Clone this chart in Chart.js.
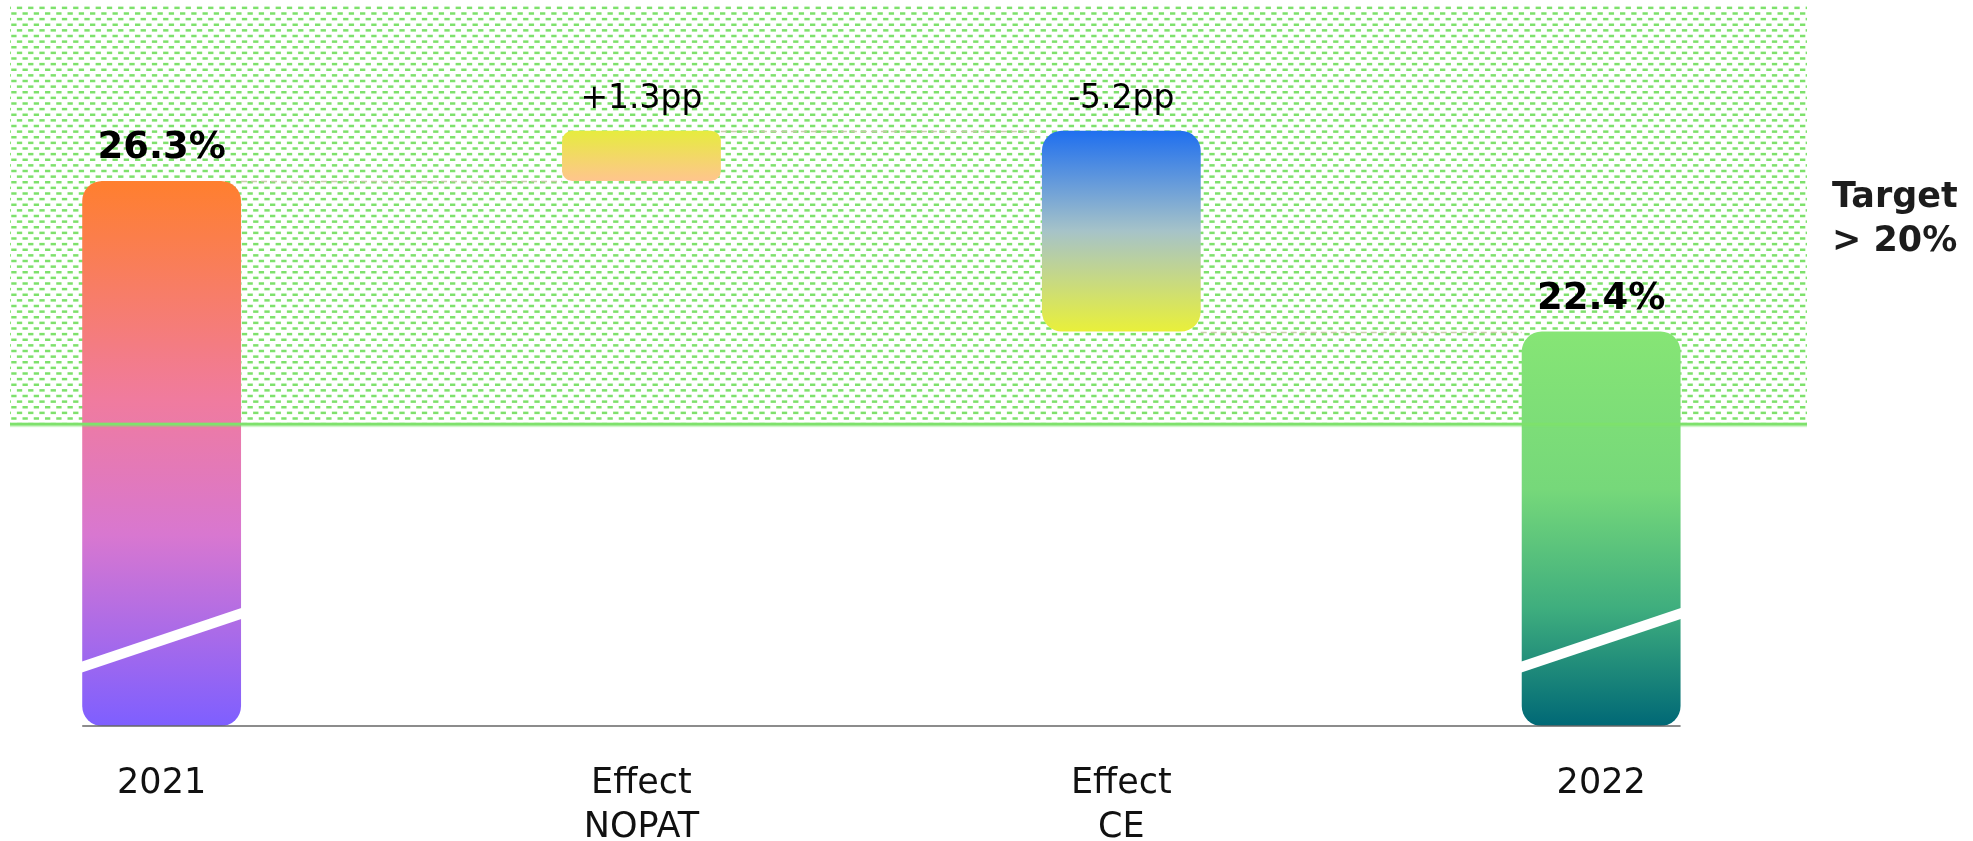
<!DOCTYPE html>
<html><head><meta charset="utf-8">
<script src="https://cdn.jsdelivr.net/npm/chart.js@4/dist/chart.umd.min.js"></script>
<style>html,body{margin:0;padding:0;background:#fff;}#wrap{width:1973px;height:841px;}</style>
</head><body><div id="wrap"><canvas id="c" width="1973" height="841"></canvas></div>
<script>
// ---------- data ----------
const categories = [["2021"], ["Effect", "NOPAT"], ["Effect", "CE"], ["2022"]];
const axisBase = 12.18;            // value at the (broken) axis bottom
const axisTop = 30.86;             // value at the top of the plot
const barStart = [axisBase, 26.3, 27.6, axisBase];
const barEnd = [26.3, 27.6, 22.4, 22.4];
const valueLabels = ["26.3%", "+1.3pp", "-5.2pp", "22.4%"];
const isTotal = [true, false, false, true];
const targetValue = 20;
const targetLabel = ["Target", "> 20%"];
const breakLeftValue = 13.7, breakRightValue = 15.1;   // axis-break stripe on total bars

// ---------- styles ----------
const gradients = [
  [[0, '#ff7f2e'], [0.4, '#f07b9e'], [0.65, '#d877d0'], [1, '#7e5fff']],
  [[0, '#e6ec3e'], [1, '#ffc58e']],
  [[0, '#1f6fef'], [0.5, '#a6c3c8'], [1, '#e9f03a']],
  [[0, '#86e575'], [0.4, '#76d87a'], [0.7, '#3fae7e'], [1, '#006876']]
];
const radii = [20, 10, 20, 20];
const green = '#7ee16c';
const FONT = "'DejaVu Sans', Verdana, sans-serif";

function makePattern(ctx) {
  const c = document.createElement('canvas');
  c.width = 45; c.height = 45;
  const x = c.getContext('2d');
  x.fillStyle = green;
  for (let r = 0; r < 8; r++) {
    const yy = r * 5.625 + 1;
    const off = (r % 2) ? 5.625 : 0;
    for (let k = -1; k < 5; k++) x.fillRect(k * 11.25 + off, yy, 5.3, 2.5);
  }
  return ctx.createPattern(c, 'repeat');
}

const bgPlugin = {
  id: 'bg',
  beforeDatasetsDraw(chart) {
    const {ctx, chartArea: ca, scales: {x, y}} = chart;
    const yT = y.getPixelForValue(targetValue);
    ctx.save();
    ctx.fillStyle = makePattern(ctx);
    ctx.fillRect(ca.left, ca.top, ca.right - ca.left, yT - ca.top);
    // connectors
    const meta = chart.getDatasetMeta(0);
    ctx.strokeStyle = 'rgba(200,200,165,0.9)';
    ctx.lineWidth = 1.5;
    ctx.setLineDash([6, 4]);
    for (let i = 0; i < barEnd.length - 1; i++) {
      const a = meta.data[i], b = meta.data[i + 1];
      const py = Math.round(y.getPixelForValue(barEnd[i])) + 0.5;
      ctx.beginPath();
      ctx.moveTo(a.x + a.width / 2, py);
      ctx.lineTo(b.x - b.width / 2, py);
      ctx.stroke();
    }
    ctx.restore();
  },
  afterDatasetsDraw(chart) {
    const {ctx, chartArea: ca, scales: {x, y}} = chart;
    const meta = chart.getDatasetMeta(0);
    const yT = y.getPixelForValue(targetValue);
    ctx.save();
    // target line
    ctx.fillStyle = green;
    ctx.fillRect(ca.left, yT - 1.5, ca.right - ca.left, 3);
    ctx.fillStyle = 'rgba(126,225,108,0.35)';
    ctx.fillRect(ca.left, yT + 1.5, ca.right - ca.left, 1.5);
    // break stripes
    ctx.fillStyle = '#ffffff';
    meta.data.forEach((el, i) => {
      if (!isTotal[i]) return;
      const l = el.x - el.width / 2 - 1, r = el.x + el.width / 2 + 1;
      const yl = y.getPixelForValue(breakLeftValue), yr = y.getPixelForValue(breakRightValue);
      const h = 5.5;
      ctx.beginPath();
      ctx.moveTo(l, yl - h); ctx.lineTo(r, yr - h); ctx.lineTo(r, yr + h); ctx.lineTo(l, yl + h);
      ctx.closePath(); ctx.fill();
    });
    // axis line
    const first = meta.data[0], last = meta.data[meta.data.length - 1];
    ctx.strokeStyle = '#666';
    ctx.lineWidth = 1.5;
    ctx.beginPath();
    ctx.moveTo(first.x - first.width / 2, ca.bottom);
    ctx.lineTo(last.x + last.width / 2, ca.bottom);
    ctx.stroke();
    // value labels
    ctx.fillStyle = '#000';
    ctx.textAlign = 'center';
    ctx.textBaseline = 'alphabetic';
    meta.data.forEach((el, i) => {
      const top = y.getPixelForValue(Math.max(barStart[i], barEnd[i]));
      ctx.font = isTotal[i] ? `bold 37px ${FONT}` : `33px ${FONT}`;
      ctx.fillText(valueLabels[i], el.x, top - 23);
    });
    // target label
    ctx.fillStyle = '#1c1c1c';
    ctx.textAlign = 'left';
    ctx.textBaseline = 'middle';
    ctx.font = `bold 35px ${FONT}`;
    const mid = (ca.top + yT) / 2;
    ctx.fillText(targetLabel[0], ca.right + 25, mid - 17);
    ctx.fillText(targetLabel[1], ca.right + 25, mid + 27);
    ctx.restore();
  }
};

new Chart(document.getElementById('c'), {
  type: 'bar',
  data: {
    datasets: [{
      data: categories.map((c, i) => ({x: i, y: [barStart[i], barEnd[i]]})),
      backgroundColor: (ctx) => {
        const chart = ctx.chart;
        if (ctx.type !== 'data' || !chart.chartArea) return '#ccc';
        const i = ctx.dataIndex, y = chart.scales.y;
        const top = y.getPixelForValue(Math.max(barStart[i], barEnd[i]));
        const bot = y.getPixelForValue(Math.min(barStart[i], barEnd[i]));
        const g = chart.ctx.createLinearGradient(0, top, 0, bot);
        gradients[i].forEach(([o, c]) => g.addColorStop(o, c));
        return g;
      },
      borderRadius: (ctx) => radii[ctx.dataIndex] || 0,
      borderSkipped: false,
      borderWidth: 0,
      barPercentage: 1,
      categoryPercentage: 0.331
    }]
  },
  options: {
    responsive: false,
    animation: false,
    layout: {padding: {left: 10, right: 166, top: 5, bottom: 0}},
    plugins: {legend: {display: false}, tooltip: {enabled: false}},
    scales: {
      x: {
        type: 'linear',
        offset: false,
        min: -0.316, max: 3.429,
        grid: {display: false},
        border: {display: false},
        afterBuildTicks: (s) => { s.ticks = categories.map((c, i) => ({value: i})); },
        afterFit: (s) => { s.height = 115; },
        ticks: {
          autoSkip: false, maxRotation: 0, padding: 28,
          color: '#111',
          font: {family: FONT, size: 35, lineHeight: 1.25},
          callback: (v) => categories[v]
        }
      },
      y: {display: false, min: axisBase, max: axisTop}
    }
  },
  plugins: [bgPlugin]
});
</script></body></html>
